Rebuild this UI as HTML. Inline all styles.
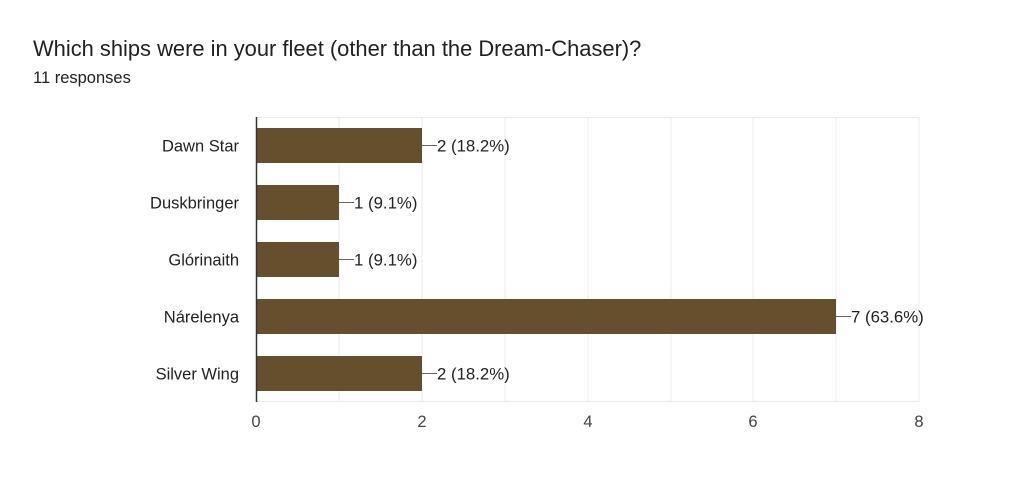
<!DOCTYPE html>
<html><head><meta charset="utf-8"><style>
body{margin:0;background:#fff;width:1022px;height:486px;overflow:hidden;font-family:"Liberation Sans",Arial,sans-serif;}
</style></head><body>
<svg width="1022" height="486" xmlns="http://www.w3.org/2000/svg" font-family="Liberation Sans, Arial, sans-serif">
<text x="33" y="56" font-size="21.9" fill="#202124">Which ships were in your fleet (other than the Dream-Chaser)?</text>
<text x="33" y="83" font-size="16.5" fill="#202124">11 responses</text>
<g stroke="#ebebeb" stroke-width="1">
<line x1="339" y1="117" x2="339" y2="402"/>
<line x1="422" y1="117" x2="422" y2="402"/>
<line x1="505" y1="117" x2="505" y2="402"/>
<line x1="588" y1="117" x2="588" y2="402"/>
<line x1="671" y1="117" x2="671" y2="402"/>
<line x1="753" y1="117" x2="753" y2="402"/>
<line x1="836" y1="117" x2="836" y2="402"/>
<line x1="919" y1="117" x2="919" y2="402"/>
<line x1="256" y1="117.5" x2="919" y2="117.5"/>
<line x1="256" y1="401.5" x2="919" y2="401.5"/>
</g>
<g fill="#654f2d">
<rect x="257" y="128" width="165" height="35"/>
<rect x="257" y="185" width="82" height="35"/>
<rect x="257" y="242" width="82" height="35"/>
<rect x="257" y="299" width="579" height="35"/>
<rect x="257" y="356" width="165" height="35"/>
</g>
<line x1="256.5" y1="117" x2="256.5" y2="402" stroke="#333" stroke-width="1.5"/>
<g stroke="#666" stroke-width="1">
<line x1="422" y1="145.5" x2="437" y2="145.5"/>
<line x1="339" y1="202.5" x2="354" y2="202.5"/>
<line x1="339" y1="259.5" x2="354" y2="259.5"/>
<line x1="836" y1="316.5" x2="851" y2="316.5"/>
<line x1="422" y1="373.5" x2="437" y2="373.5"/>
</g>
<g font-size="16.8" fill="#222">
<text x="437" y="151.5">2 (18.2%)</text>
<text x="354" y="208.5">1 (9.1%)</text>
<text x="354" y="265.5">1 (9.1%)</text>
<text x="851" y="322.5">7 (63.6%)</text>
<text x="437" y="379.5">2 (18.2%)</text>
</g>
<g font-size="16.5" fill="#222" text-anchor="end">
<text x="239" y="151.5">Dawn Star</text>
<text x="239" y="208.5">Duskbringer</text>
<text x="239" y="265.5">Glórinaith</text>
<text x="239" y="322.5">Nárelenya</text>
<text x="239" y="379.5">Silver Wing</text>
</g>
<g font-size="16.5" fill="#444" text-anchor="middle">
<text x="256" y="427">0</text>
<text x="422" y="427">2</text>
<text x="588" y="427">4</text>
<text x="753" y="427">6</text>
<text x="919" y="427">8</text>
</g>
</svg>
</body></html>
